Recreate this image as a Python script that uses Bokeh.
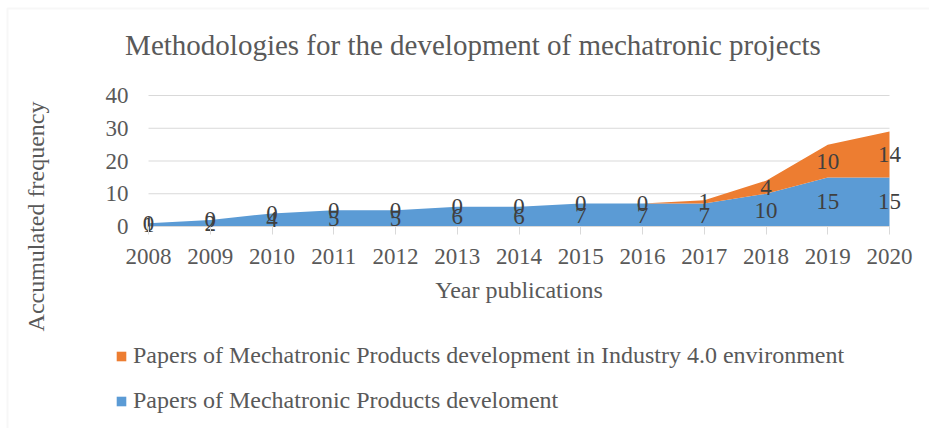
import math
from bokeh.plotting import figure
from bokeh.models import (Range1d, ColumnDataSource, Legend, LegendItem, FixedTicker, Label,
                          BoxAnnotation)
from bokeh.core.properties import value
from bokeh.embed import file_html
from bokeh.resources import INLINE

years = [2008, 2009, 2010, 2011, 2012, 2013, 2014, 2015, 2016, 2017, 2018, 2019, 2020]
papers_dev = [1, 2, 4, 5, 5, 6, 6, 7, 7, 7, 10, 15, 15]
papers_i40 = [0, 0, 0, 0, 0, 0, 0, 0, 0, 1, 4, 10, 14]
y_ticks = [0, 10, 20, 30, 40]

series_names = ["Papers of Mechatronic Products develoment",
                "Papers of Mechatronic Products development in Industry 4.0 environment"]
colors = ["#5B9BD5", "#ED7D31"]
title_text = "Methodologies for the development of mechatronic projects"
x_title = "Year publications"
y_title = "Accumulated frequency"

FONT = "Liberation Serif"
TXT = "#595959"
GRID = "#d9d9d9"

W, H = 929, 428
# pixel layout of the plot area (page coordinates, top-left origin)
PX_L, PX_R = 148, 889      # first / last category
PY_T, PY_B = 95, 226       # top / bottom of value axis
y_max = y_ticks[-1]
sx = (PX_R - PX_L) / (years[-1] - years[0])
sy = (PY_B - PY_T) / y_max

def xd(px):
    return years[0] + (px - PX_L) / sx

def yd(py):
    return (PY_B - py) / sy

src = ColumnDataSource(dict(
    year=years, dev=papers_dev, i40=papers_i40,
    dev_mid=[d / 2 for d in papers_dev],
    i40_mid=[d + o / 2 for d, o in zip(papers_dev, papers_i40)],
    dev_lbl=[str(v) for v in papers_dev],
    i40_lbl=[str(v) for v in papers_i40],
))

p = figure(width=W, height=H, x_range=Range1d(xd(0), xd(W)), y_range=Range1d(yd(H), yd(0)),
           output_backend="svg", toolbar_location=None, min_border=0, title=None)
p.outline_line_color = None
p.xgrid.visible = False
p.ygrid.visible = False

# chart border
p.add_layout(BoxAnnotation(left=xd(7), top=yd(8), right=xd(W + 20), bottom=yd(H + 20),
                           fill_alpha=0, line_color="#e3e3e3", line_width=2))

# gridlines over the category span
gy = [t for t in y_ticks if t > 0]
p.segment(x0=[years[0]] * len(gy), x1=[years[-1]] * len(gy), y0=gy, y1=gy,
          line_color=GRID, line_width=1)

rs = p.varea_stack(["dev", "i40"], x="year", color=colors, source=src)

# category axis baseline
p.segment(x0=[years[0]], x1=[years[-1]], y0=[0], y1=[0], line_color=GRID, line_width=1)

p.text(x="year", y="dev_mid", text="dev_lbl", source=src, text_font=value(FONT),
       text_font_size="23px", text_color="#404040", text_align="center", text_baseline="middle")
p.text(x="year", y="i40_mid", text="i40_lbl", source=src, text_font=value(FONT),
       text_font_size="23px", text_color="#404040", text_align="center", text_baseline="middle")

xa = p.xaxis[0]
ya = p.yaxis[0]
for ax in [xa, ya]:
    ax.major_label_text_font = FONT
    ax.major_label_text_font_size = "23px"
    ax.major_label_text_color = TXT
    ax.axis_label_text_font = FONT
    ax.axis_label_text_font_size = "24px"
    ax.axis_label_text_color = TXT
    ax.axis_label_text_font_style = "normal"
    ax.minor_tick_line_color = None
    ax.axis_line_color = None

xa.fixed_location = 0
xa.bounds = (years[0], years[-1])
xa.ticker = FixedTicker(ticks=years)
xa.major_tick_line_color = GRID
xa.major_tick_in = 0
xa.major_tick_out = 8
xa.major_label_standoff = 14
xa.axis_label = x_title
xa.axis_label_standoff = 10

ya.fixed_location = years[0]
ya.bounds = (0, y_max)
ya.ticker = FixedTicker(ticks=y_ticks)
ya.major_tick_line_color = None
ya.major_tick_in = 0
ya.major_tick_out = 0
ya.major_label_standoff = 20

p.add_layout(Label(x=xd(472.5), y=yd(44), text=title_text, text_font=FONT,
                   text_font_size="29px", text_color=TXT, text_align="center",
                   text_baseline="middle"))
p.add_layout(Label(x=xd(35), y=yd(216), text=y_title, text_font=FONT, angle=math.pi / 2,
                   text_font_size="24px", text_color=TXT, text_align="center",
                   text_baseline="middle"))

legend = Legend(items=[LegendItem(label=series_names[1], renderers=[rs[1]]),
                       LegendItem(label=series_names[0], renderers=[rs[0]])],
                location=(115, 14), orientation="vertical",
                label_text_font=FONT, label_text_font_size="24px", label_text_color=TXT,
                glyph_width=12, glyph_height=12, label_height=24, spacing=18,
                padding=0, margin=0, border_line_color=None, background_fill_alpha=0,
                label_standoff=6)
p.add_layout(legend, "center")

open("out.html", "w").write(file_html(p, INLINE))
